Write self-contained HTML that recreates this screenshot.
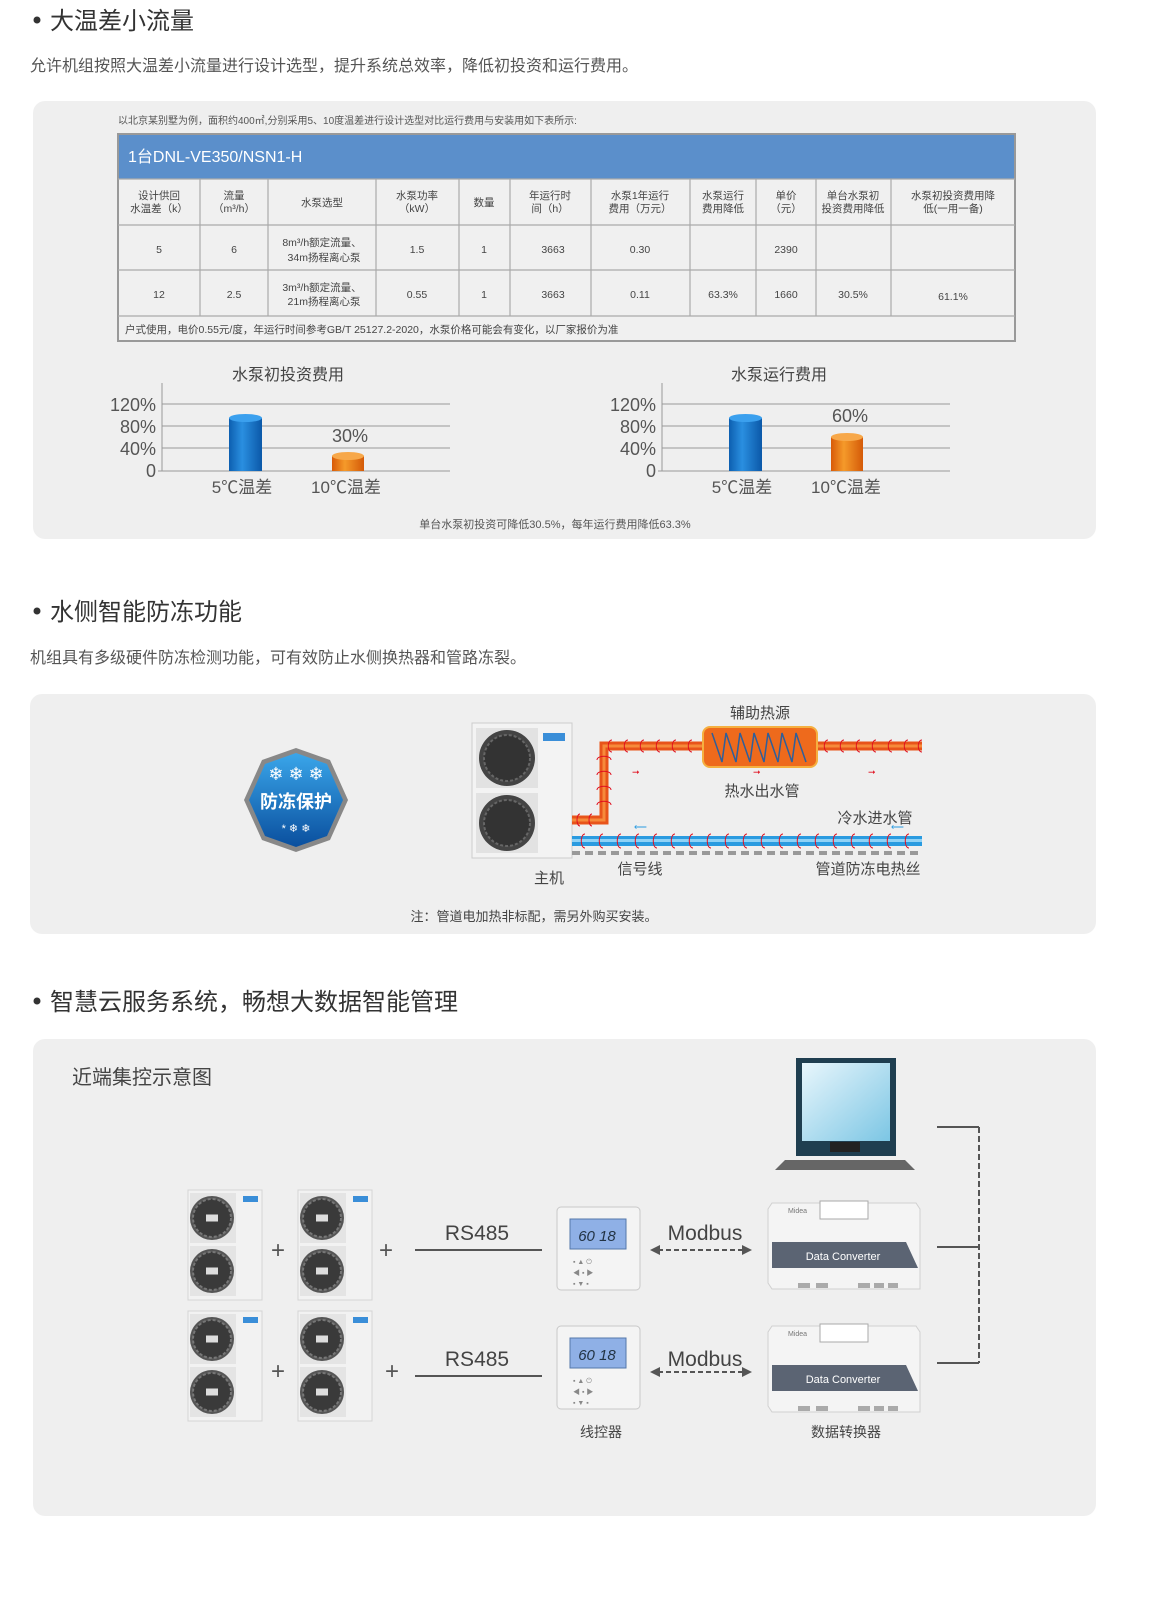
<!DOCTYPE html>
<html><head><meta charset="utf-8"><style>
html,body{margin:0;padding:0;background:#fff;width:1151px;height:1600px;overflow:hidden;}
svg{display:block;position:absolute;left:0;top:0;}
text{font-family:"Liberation Sans","Noto Sans CJK SC",sans-serif;}
</style></head><body>
<svg width="1151" height="1600" viewBox="0 0 1151 1600" xmlns="http://www.w3.org/2000/svg">
<defs>
<linearGradient id="blu" x1="0" x2="1"><stop offset="0" stop-color="#0d5fb0"/><stop offset="0.4" stop-color="#2a8fe0"/><stop offset="1" stop-color="#0b58a8"/></linearGradient>
<linearGradient id="org" x1="0" x2="1"><stop offset="0" stop-color="#d85a08"/><stop offset="0.4" stop-color="#f59a2a"/><stop offset="1" stop-color="#d45a08"/></linearGradient>
<linearGradient id="badge" x1="0" y1="0" x2="0" y2="1"><stop offset="0" stop-color="#3aa6ea"/><stop offset="1" stop-color="#0a4f9e"/></linearGradient>
<linearGradient id="scr" x1="0" y1="0" x2="1" y2="1"><stop offset="0" stop-color="#e8f6fc"/><stop offset="1" stop-color="#7cc6e4"/></linearGradient>
<g id="fan"><circle r="22" fill="#555"/><circle r="19" fill="#3a3a3a" stroke="#777" stroke-width="2" stroke-dasharray="3 2"/><rect x="-6" y="-3.5" width="12" height="7" fill="#ddd"/></g>
<g id="unit">
<rect x="0" y="0" width="74" height="110" fill="#f2f2f2" stroke="#d5d5d5"/>
<rect x="2" y="3" width="46" height="50" fill="#e4e4e4"/><rect x="2" y="56" width="46" height="50" fill="#e4e4e4"/>
<use href="#fan" x="24" y="28"/><use href="#fan" x="24" y="81"/>
<rect x="55" y="6" width="15" height="6" fill="#3a8ed8"/>
</g>
<g id="ctrl">
<rect x="0" y="0" width="83" height="83" rx="4" fill="#f4f4f4" stroke="#c8c8c8"/>
<rect x="13" y="12" width="56" height="30" fill="#8fb0e6" stroke="#5577aa"/>
<text x="40" y="34" font-size="15" font-style="italic" fill="#234" text-anchor="middle">60 18</text>
<text x="16" y="57" font-size="7" fill="#888">▪   ▲   ⏻</text>
<text x="16" y="68" font-size="7" fill="#888">◀   ▪   ▶</text>
<text x="16" y="79" font-size="7" fill="#888">▪   ▼   ▪</text>
</g>
<g id="conv">
<path d="M4 6 L148 6 L152 12 L152 92 L4 92 L0 86 L0 12Z" fill="#f4f4f4" stroke="#d0d0d0"/>
<rect x="52" y="4" width="48" height="18" fill="#fff" stroke="#aaa"/>
<text x="20" y="16" font-size="7" fill="#777">Midea</text>
<path d="M4 45 L138 45 L150 71 L4 71Z" fill="#5b6473"/>
<text x="75" y="63" font-size="11" fill="#fff" text-anchor="middle">Data Converter</text>
<rect x="30" y="86" width="12" height="5" fill="#aaa"/><rect x="48" y="86" width="12" height="5" fill="#aaa"/><rect x="90" y="86" width="12" height="5" fill="#aaa"/><rect x="106" y="86" width="10" height="5" fill="#aaa"/><rect x="120" y="86" width="10" height="5" fill="#aaa"/>
</g>
</defs>

<!-- Section 1 -->
<circle cx="37" cy="20" r="3.5" fill="#333"/>
<text x="50" y="29" font-size="24" fill="#333">大温差小流量</text>
<text x="30" y="71" font-size="16" fill="#555">允许机组按照大温差小流量进行设计选型，提升系统总效率，降低初投资和运行费用。</text>
<rect x="33" y="101" width="1063" height="438" rx="12" fill="#efefef"/>
<text x="118" y="124" font-size="10" fill="#555">以北京某别墅为例，面积约400㎡,分别采用5、10度温差进行设计选型对比运行费用与安装用如下表所示:</text>
<rect x="118" y="134" width="897" height="207" fill="#f0f0f0" stroke="#999" stroke-width="2"/>
<rect x="119" y="135" width="895" height="44" fill="#5b8fcb"/>
<text x="128" y="162" font-size="16" fill="#fff">1台DNL-VE350/NSN1-H</text>
<g stroke="#aaa" stroke-width="1.2" fill="none">
<line x1="118" y1="179" x2="1015" y2="179"/><line x1="118" y1="225" x2="1015" y2="225"/><line x1="118" y1="270" x2="1015" y2="270"/><line x1="118" y1="316" x2="1015" y2="316"/>
<path d="M200 179V316M268 179V316M376 179V316M459 179V316M510 179V316M591 179V316M690 179V316M756 179V316M816 179V316M891 179V316"/>
</g>
<g font-size="10.5" fill="#444" text-anchor="middle">
<text x="159" y="199">设计供回</text><text x="159" y="212">水温差（k）</text>
<text x="234" y="199">流量</text><text x="234" y="212">（m³/h）</text>
<text x="322" y="206">水泵选型</text>
<text x="417" y="199">水泵功率</text><text x="417" y="212">（kW）</text>
<text x="484" y="206">数量</text>
<text x="550" y="199">年运行时</text><text x="550" y="212">间（h）</text>
<text x="640" y="199">水泵1年运行</text><text x="640" y="212">费用（万元）</text>
<text x="723" y="199">水泵运行</text><text x="723" y="212">费用降低</text>
<text x="786" y="199">单价</text><text x="786" y="212">（元）</text>
<text x="853" y="199">单台水泵初</text><text x="853" y="212">投资费用降低</text>
<text x="953" y="199">水泵初投资费用降</text><text x="953" y="212">低(一用一备)</text>
<text x="159" y="253">5</text><text x="234" y="253">6</text><text x="322" y="246">8m³/h额定流量、</text><text x="324" y="261">34m扬程离心泵</text><text x="417" y="253">1.5</text><text x="484" y="253">1</text><text x="553" y="253">3663</text><text x="640" y="253">0.30</text><text x="786" y="253">2390</text>
<text x="159" y="298">12</text><text x="234" y="298">2.5</text><text x="322" y="291">3m³/h额定流量、</text><text x="324" y="305">21m扬程离心泵</text><text x="417" y="298">0.55</text><text x="484" y="298">1</text><text x="553" y="298">3663</text><text x="640" y="298">0.11</text><text x="723" y="298">63.3%</text><text x="786" y="298">1660</text><text x="853" y="298">30.5%</text><text x="953" y="300">61.1%</text>
</g>
<text x="125" y="333" font-size="10.5" fill="#444">户式使用，电价0.55元/度，年运行时间参考GB/T 25127.2-2020，水泵价格可能会有变化，以厂家报价为准</text>

<!-- charts -->
<g>
<text x="288" y="380" font-size="16" fill="#444" text-anchor="middle">水泵初投资费用</text>
<g stroke="#999" stroke-width="1"><line x1="162" y1="383" x2="162" y2="471"/><line x1="162" y1="404" x2="450" y2="404"/><line x1="162" y1="426" x2="450" y2="426"/><line x1="162" y1="448" x2="450" y2="448"/><line x1="158" y1="471" x2="450" y2="471"/></g>
<g font-size="18" fill="#555" text-anchor="end"><text x="156" y="411">120%</text><text x="156" y="433">80%</text><text x="156" y="455">40%</text><text x="156" y="477">0</text></g>
<rect x="229" y="418" width="33" height="53" fill="url(#blu)"/><ellipse cx="245.5" cy="418" rx="16.5" ry="4" fill="#3ba0ee"/>
<rect x="332" y="456" width="32" height="15" fill="url(#org)"/><ellipse cx="348" cy="456" rx="16" ry="4" fill="#f7a84a"/>
<text x="350" y="442" font-size="18" fill="#555" text-anchor="middle">30%</text>
<text x="242" y="493" font-size="17" fill="#555" text-anchor="middle">5℃温差</text>
<text x="346" y="493" font-size="17" fill="#555" text-anchor="middle">10℃温差</text>
</g>
<g>
<text x="779" y="380" font-size="16" fill="#444" text-anchor="middle">水泵运行费用</text>
<g stroke="#999" stroke-width="1"><line x1="662" y1="383" x2="662" y2="471"/><line x1="662" y1="404" x2="950" y2="404"/><line x1="662" y1="426" x2="950" y2="426"/><line x1="662" y1="448" x2="950" y2="448"/><line x1="658" y1="471" x2="950" y2="471"/></g>
<g font-size="18" fill="#555" text-anchor="end"><text x="656" y="411">120%</text><text x="656" y="433">80%</text><text x="656" y="455">40%</text><text x="656" y="477">0</text></g>
<rect x="729" y="418" width="33" height="53" fill="url(#blu)"/><ellipse cx="745.5" cy="418" rx="16.5" ry="4" fill="#3ba0ee"/>
<rect x="831" y="437" width="32" height="34" fill="url(#org)"/><ellipse cx="847" cy="437" rx="16" ry="4" fill="#f7a84a"/>
<text x="850" y="422" font-size="18" fill="#555" text-anchor="middle">60%</text>
<text x="742" y="493" font-size="17" fill="#555" text-anchor="middle">5℃温差</text>
<text x="846" y="493" font-size="17" fill="#555" text-anchor="middle">10℃温差</text>
</g>
<text x="555" y="528" font-size="11" fill="#555" text-anchor="middle">单台水泵初投资可降低30.5%，每年运行费用降低63.3%</text>

<!-- Section 2 -->
<circle cx="37" cy="611" r="3.5" fill="#333"/>
<text x="50" y="620" font-size="24" fill="#333">水侧智能防冻功能</text>
<text x="30" y="663" font-size="16" fill="#555">机组具有多级硬件防冻检测功能，可有效防止水侧换热器和管路冻裂。</text>
<rect x="30" y="694" width="1066" height="240" rx="12" fill="#efefef"/>
<path d="M296 748 L330 760 L348 800 L330 840 L296 852 L262 840 L244 800 L262 760Z" fill="#888"/>
<path d="M296 753 L327 764 L343 800 L327 836 L296 847 L265 836 L249 800 L265 764Z" fill="url(#badge)"/>
<text x="296" y="780" font-size="18" fill="#fff" text-anchor="middle">❄ ❄ ❄</text>
<text x="296" y="808" font-size="18" font-weight="bold" fill="#fff" text-anchor="middle">防冻保护</text>
<text x="296" y="832" font-size="11" fill="#fff" text-anchor="middle">* ❄ ❄</text>
<rect x="472" y="723" width="100" height="135" fill="#f3f3f3" stroke="#ccc"/>
<rect x="476" y="728" width="62" height="60" fill="#e2e2e2"/><rect x="476" y="793" width="62" height="60" fill="#e2e2e2"/>
<circle cx="507" cy="758" r="28" fill="#444"/><circle cx="507" cy="758" r="23" fill="#333" stroke="#666" stroke-width="2" stroke-dasharray="3 2"/>
<circle cx="507" cy="823" r="28" fill="#444"/><circle cx="507" cy="823" r="23" fill="#333" stroke="#666" stroke-width="2" stroke-dasharray="3 2"/>
<rect x="543" y="733" width="22" height="8" fill="#3a8ed8"/>
<path d="M572 820 H604 V746 H922" fill="none" stroke="#e8541a" stroke-width="9"/>
<path d="M572 820 H604 V746 H922" fill="none" stroke="#f68a3a" stroke-width="3"/>
<rect x="703" y="727" width="114" height="40" rx="7" fill="#ee6a1c" stroke="#f5b040" stroke-width="2"/>
<path d="M712 733 L722 762 L726 733 L736 762 L740 733 L750 762 L754 733 L764 762 L768 733 L778 762 L782 733 L792 762 L796 733 L806 762" fill="none" stroke="#2f5f9a" stroke-width="1.5"/>
<g fill="none" stroke="#e01020" stroke-width="1"><path d="M612 740c-5 0-5 12 0 12M628 740c-5 0-5 12 0 12M644 740c-5 0-5 12 0 12M660 740c-5 0-5 12 0 12M676 740c-5 0-5 12 0 12M692 740c-5 0-5 12 0 12M828 740c-5 0-5 12 0 12M844 740c-5 0-5 12 0 12M860 740c-5 0-5 12 0 12M876 740c-5 0-5 12 0 12M892 740c-5 0-5 12 0 12M908 740c-5 0-5 12 0 12M922 740c-5 0-5 12 0 12"/>
<path d="M597 760c0-5 14-5 14 0M597 775c0-5 14-5 14 0M597 790c0-5 14-5 14 0M597 805c0-5 14-5 14 0M580 814c-4 0-4 12 0 12M592 814c-4 0-4 12 0 12"/></g>
<rect x="572" y="836" width="350" height="10" fill="#2a9be0"/><rect x="572" y="839" width="350" height="3" fill="#8fd2f6"/>
<g fill="none" stroke="#e01020" stroke-width="1"><path d="M585 834c-5 0-5 14 0 14M603 834c-5 0-5 14 0 14M621 834c-5 0-5 14 0 14M639 834c-5 0-5 14 0 14M657 834c-5 0-5 14 0 14M675 834c-5 0-5 14 0 14M693 834c-5 0-5 14 0 14M711 834c-5 0-5 14 0 14M729 834c-5 0-5 14 0 14M747 834c-5 0-5 14 0 14M765 834c-5 0-5 14 0 14M783 834c-5 0-5 14 0 14M801 834c-5 0-5 14 0 14M819 834c-5 0-5 14 0 14M837 834c-5 0-5 14 0 14M855 834c-5 0-5 14 0 14M873 834c-5 0-5 14 0 14M891 834c-5 0-5 14 0 14M909 834c-5 0-5 14 0 14"/></g>
<line x1="572" y1="853" x2="922" y2="853" stroke="#999" stroke-width="4" stroke-dasharray="8 5"/>
<g fill="#e01020" font-size="9"><text x="632" y="775">➞</text><text x="753" y="775">➞</text><text x="868" y="775">➞</text></g>
<g fill="#2a9be0" font-size="9"><text x="634" y="830">⟵</text><text x="891" y="830">⟵</text></g>
<g font-size="15" fill="#444" text-anchor="middle">
<text x="760" y="718">辅助热源</text><text x="762" y="796">热水出水管</text><text x="875" y="823">冷水进水管</text>
<text x="640" y="874">信号线</text><text x="549" y="883">主机</text><text x="868" y="874">管道防冻电热丝</text></g>
<text x="534" y="921" font-size="13" fill="#444" text-anchor="middle">注：管道电加热非标配，需另外购买安装。</text>

<!-- Section 3 -->
<circle cx="37" cy="1001" r="3.5" fill="#333"/>
<text x="50" y="1010" font-size="24" fill="#333">智慧云服务系统，畅想大数据智能管理</text>
<rect x="33" y="1039" width="1063" height="477" rx="12" fill="#efefef"/>
<text x="72" y="1084" font-size="20" fill="#444">近端集控示意图</text>
<rect x="796" y="1058" width="100" height="98" fill="#1f3e50"/>
<rect x="802" y="1063" width="88" height="78" fill="url(#scr)"/>
<rect x="830" y="1142" width="30" height="10" fill="#222"/>
<path d="M785 1160 H905 L915 1170 H775Z" fill="#666"/>
<use href="#unit" x="188" y="1190"/><use href="#unit" x="298" y="1190"/>
<use href="#unit" x="188" y="1311"/><use href="#unit" x="298" y="1311"/>
<g font-size="24" fill="#555" text-anchor="middle"><text x="278" y="1258">+</text><text x="386" y="1258">+</text><text x="278" y="1379">+</text><text x="392" y="1379">+</text></g>
<g font-size="21" fill="#444" text-anchor="middle"><text x="477" y="1240">RS485</text><text x="477" y="1366">RS485</text><text x="705" y="1240">Modbus</text><text x="705" y="1366">Modbus</text></g>
<line x1="415" y1="1250" x2="542" y2="1250" stroke="#555" stroke-width="2"/>
<line x1="415" y1="1376" x2="542" y2="1376" stroke="#555" stroke-width="2"/>
<g stroke="#555" stroke-width="2" stroke-dasharray="5 3"><line x1="658" y1="1250" x2="744" y2="1250"/><line x1="658" y1="1372" x2="744" y2="1372"/></g>
<g fill="#555"><path d="M650 1250 L660 1245 L660 1255Z"/><path d="M752 1250 L742 1245 L742 1255Z"/><path d="M650 1372 L660 1367 L660 1377Z"/><path d="M752 1372 L742 1367 L742 1377Z"/></g>
<use href="#ctrl" x="557" y="1207"/><use href="#ctrl" x="557" y="1326"/>
<use href="#conv" x="768" y="1197"/><use href="#conv" x="768" y="1320"/>
<g stroke="#555" stroke-width="2" fill="none"><line x1="937" y1="1127" x2="979" y2="1127"/><line x1="937" y1="1247" x2="979" y2="1247"/><line x1="937" y1="1363" x2="979" y2="1363"/></g>
<line x1="979" y1="1127" x2="979" y2="1363" stroke="#555" stroke-width="2" stroke-dasharray="6 3"/>
<text x="601" y="1437" font-size="14" fill="#444" text-anchor="middle">线控器</text>
<text x="846" y="1437" font-size="14" fill="#444" text-anchor="middle">数据转换器</text>
</svg>
</body></html>
